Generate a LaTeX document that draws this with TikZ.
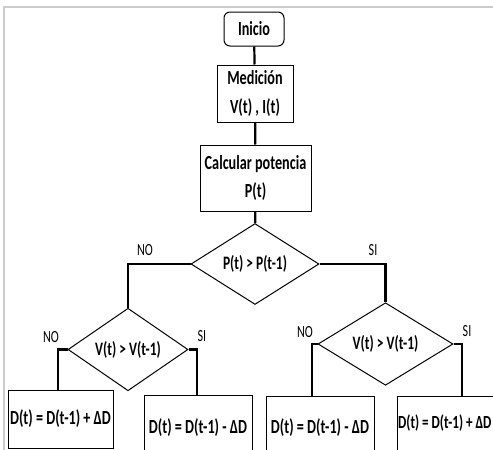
\documentclass[tikz,border=0pt]{standalone}
\usepackage{fontspec}
\setmainfont{Carlito}[FakeStretch=0.71]
\usetikzlibrary{shapes.geometric}
\tikzset{
  box/.style={draw=black, line width=1pt, rectangle, inner sep=0pt, font=\bfseries\fontsize{20}{28.5}\selectfont, align=center},
  startbox/.style={box, rounded corners=6pt},
  decision/.style={draw=black, line width=1pt, diamond, inner sep=0pt, font=\bfseries\fontsize{19}{22}\selectfont},
  conn/.style={line width=2.2pt},
  lbl/.style={font=\fontsize{17}{19}\selectfont, inner sep=0pt},
  frameline/.style={draw=black!20, line width=1.2pt}
}
\begin{document}
\begin{tikzpicture}[x=1pt,y=-1pt]
\useasboundingbox (0,0) rectangle (493,450);
\clip (0,0) rectangle (493,450);
\draw[frameline] (4,455) -- (4,7) -- (495,7);
% nodes
\node[startbox, minimum width=60pt, minimum height=34pt] (ini) at (254,29) {Inicio};
\node[box, minimum width=76pt, minimum height=57pt] (med) at (255,93.5) {Medición\\V(t) , I(t)};
\node[box, minimum width=111pt, minimum height=66pt] (pot) at (255.5,178) {Calcular potencia\\P(t)};
\node[decision, minimum width=128pt, minimum height=58pt] (d1) at (255,264) {P(t) > P(t-1)};
\node[decision, minimum width=120pt, minimum height=57pt] (d2) at (128,349.5) {V(t) > V(t-1)};
\node[decision, minimum width=135pt, minimum height=58pt] (d3) at (385.5,344) {V(t) > V(t-1)};
\node[box, minimum width=105pt, minimum height=58pt] (b1) at (60.5,419) {D(t) = D(t-1) + ΔD};
\node[box, minimum width=108pt, minimum height=65pt] (b2) at (198,427.5) {D(t) = D(t-1) - ΔD};
\node[box, minimum width=108pt, minimum height=64pt] (b3) at (320,428) {D(t) = D(t-1) - ΔD};
\node[box, minimum width=108pt, minimum height=64pt] (b4) at (451,428) {};
\node[font=\bfseries\fontsize{18.5}{28}\selectfont, inner sep=0pt, anchor=west] (b4t) at (398,423) {D(t) = D(t-1) + ΔD};
% connectors
\draw[conn] (ini) -- (med);
\draw[conn] (med) -- (pot);
\draw[conn] (pot) -- (d1);
\draw[conn] (d1.west) -| (d2.north);
\draw[conn] (d1.east) -| (d3.north);
\draw[conn] (d2.west) -| ([xshift=-2.5pt]b1.north);
\draw[conn] (d2.east) -| ([xshift=-1pt]b2.north);
\draw[conn] (d3.west) -| ([xshift=-8pt]b3.north);
\draw[conn] (d3.east) -| ([xshift=11pt]b4.north);
% labels
\node[lbl] (l1) at (145,250) {NO};
\node[lbl] (l2) at (373,250) {SI};
\node[lbl] (l3) at (51,337) {NO};
\node[lbl] (l4) at (202,336) {SI};
\node[lbl] (l5) at (305,332) {NO};
\node[lbl] (l6) at (467,331) {SI};
\end{tikzpicture}
\end{document}
